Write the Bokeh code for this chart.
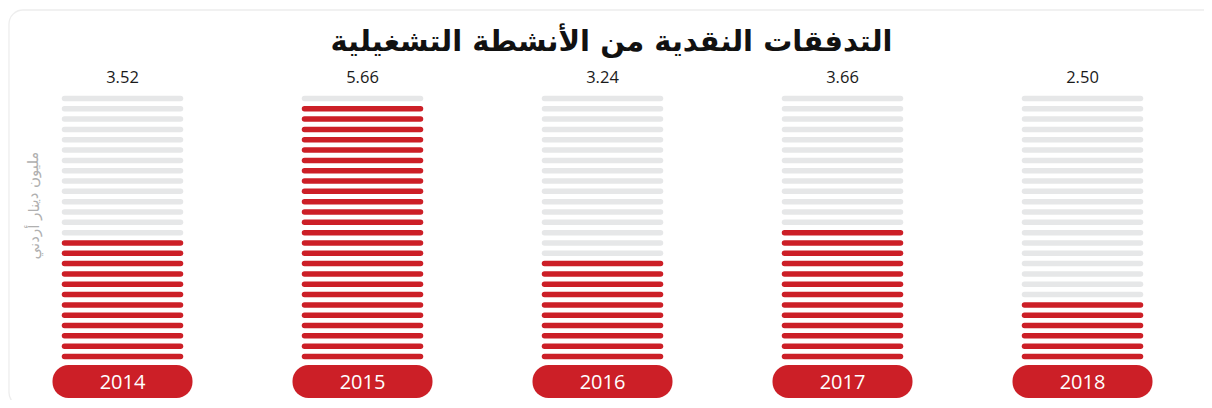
from bokeh.plotting import figure
from bokeh.models import ColumnDataSource, Range1d, BoxAnnotation
from bokeh.core.properties import value
from bokeh.embed import file_html
from bokeh.resources import INLINE

# ---- data ----
years = ["2014", "2015", "2016", "2017", "2018"]
values = [3.52, 5.66, 3.24, 3.66, 2.50]
value_labels = ["3.52", "5.66", "3.24", "3.66", "2.50"]
title_text = "التدفقات النقدية من الأنشطة التشغيلية"
unit_label = "مليون دينار أردني"

# scale of the stripe "gauge" (value units)
base = 1.536
step = 0.165
n_stripes = 26

RED = "#cc1f27"
GREY = "#e6e7e8"

W, H = 1204, 400
px_x = 240.0          # pixels per column unit
px_y = 62.55          # pixels per value unit
x0 = -122 / px_x
x1 = x0 + W / px_x
y0 = (base + step) - (H - 356) / px_y
y1 = y0 + H / px_y

p = figure(width=W, height=H, output_backend="svg", toolbar_location=None,
           x_range=Range1d(x0, x1), y_range=Range1d(y0, y1),
           min_border=0, min_border_left=0, min_border_right=0,
           min_border_top=0, min_border_bottom=0)
p.axis.visible = False
p.grid.visible = False
p.outline_line_color = None
p.background_fill_color = "white"
p.border_fill_color = "white"

# frame border (rounded)
p.add_layout(BoxAnnotation(left=x0 + 8.5 / px_x, right=x1 + 14 / px_x,
                           top=y1 - 9.5 / px_y, bottom=y0 - 6 / px_y,
                           fill_alpha=0, line_color="#c4c4c4", line_width=1.3,
                           border_radius=14))

# stripes
half_w = 0.5 * 116 / px_x
sx0, sx1, sy, scol = [], [], [], []
for i, v in enumerate(values):
    for k in range(1, n_stripes + 1):
        lvl = base + k * step
        sx0.append(i - half_w)
        sx1.append(i + half_w)
        sy.append(lvl)
        scol.append(RED if base + (k - 0.5) * step <= v else GREY)
src = ColumnDataSource(dict(x0=sx0, x1=sx1, y=sy, c=scol))
p.segment(x0="x0", y0="y", x1="x1", y1="y", line_color="c", line_width=5.5,
          line_cap="round", source=src)

# value labels above columns
top_lvl = base + n_stripes * step
xs = list(range(len(years)))
p.text(x=xs, y=[top_lvl + 21 / px_y] * len(xs), text=value_labels,
       text_align="center", text_baseline="middle", text_font=value("Open Sans"),
       text_font_size="16.5px", text_color="#1a1a1a")

# year pills
pill_cy = base + step - 25 / px_y
pill_h = 33 / px_y
pill_w = 140 / px_x
p.quad(left=[i - pill_w / 2 for i in xs], right=[i + pill_w / 2 for i in xs],
       bottom=[pill_cy - pill_h / 2] * len(xs), top=[pill_cy + pill_h / 2] * len(xs),
       fill_color=RED, line_color=None, border_radius=16)
p.text(x=xs, y=[pill_cy] * len(xs), text=years, text_align="center",
       text_baseline="middle", text_font=value("Open Sans"),
       text_font_size="20px", text_color="white")

# title
p.text(x=[x0 + 611 / px_x], y=[y1 - 40 / px_y], text=[title_text],
       text_align="center", text_baseline="middle", text_font=value("DejaVu Sans"),
       text_font_style="bold", text_font_size="29px", text_color="#111111")

# unit label (rotated)
p.text(x=[x0 + 33 / px_x], y=[y1 - 205 / px_y], text=[unit_label], angle=1.5708,
       text_align="center", text_baseline="middle", text_font=value("DejaVu Sans"),
       text_font_size="15px", text_color="#b0b0b0")

open("out.html", "w").write(file_html(p, INLINE))
